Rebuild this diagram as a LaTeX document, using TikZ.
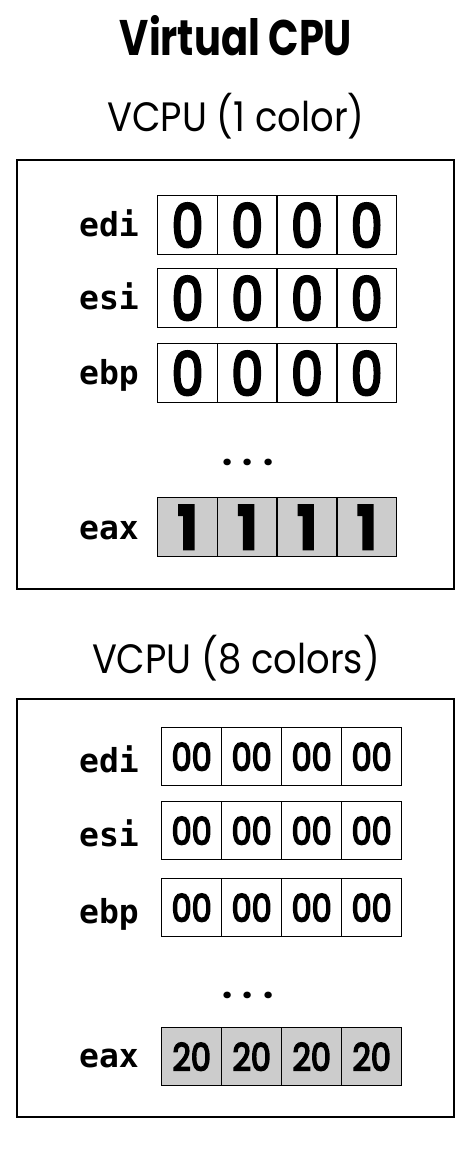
\documentclass[tikz,border=0pt]{standalone}
\usepackage{fontspec}
\setmainfont{Poppins}
\newfontfamily\titlefont{Poppins}[FakeStretch=0.8]
\newfontfamily\subfont{Poppins}[FakeStretch=0.9]
\newfontfamily\digitfont{Poppins}[FakeStretch=0.84, FakeBold=4]
\newfontfamily\regfont{DejaVu Sans Mono}
\usetikzlibrary{positioning}

\definecolor{cellgray}{RGB}{204,204,204}
\tikzset{
  cpubox/.style={draw, line width=1.6pt},
  regcell/.style={draw, line width=1.4pt, minimum width=59.7pt, minimum height=59pt,
    inner sep=0pt, anchor=north west},
  reglabel/.style={anchor=base east, inner sep=0pt,
    font={\fontsize{33}{33}\selectfont\regfont\bfseries}},
}

\begin{document}
\begin{tikzpicture}[x=1pt, y=-1pt]
  \useasboundingbox (0,0) rectangle (476,1156);

  \node[font={\fontsize{50}{50}\selectfont\titlefont\bfseries}] (title) at (236,36) {Virtual CPU};

  % first vcpu
  \node[font={\fontsize{41}{41}\selectfont\subfont}] (sub1) at (236,116) {VCPU (1 color)};
  \draw[cpubox] (17,160) rectangle (454,589);
  \foreach \y/\reg in {195/edi, 268/esi, 343/ebp} {
    \node[reglabel] (a\reg) at (139,\y+41) {\reg};
    \foreach \c in {0,...,3}
      \node[regcell, font={\fontsize{60}{60}\selectfont\digitfont}] (a\reg\c) at (157+\c*59.7,\y) {0};
  }
  \node[font={\fontsize{36}{36}\selectfont\bfseries}] (adots) at (248,462) {. . .};
  \node[reglabel] (aeax) at (139,539) {eax};
  \foreach \c in {0,...,3}
    \node[regcell, fill=cellgray, font={\fontsize{60}{60}\selectfont\digitfont\bfseries}] (aeax\c) at (157+\c*59.7,497) {1};

  % second vcpu
  \node[font={\fontsize{41}{41}\selectfont\subfont}] (sub2) at (236,658) {VCPU (8 colors)};
  \draw[cpubox] (17,699) rectangle (454,1117);
  \foreach \y/\reg in {727/edi, 801/esi, 878/ebp} {
    \node[reglabel] (b\reg) at (139,\y+45) {\reg};
    \foreach \c in {0,...,3}
      \node[regcell, minimum width=60pt, minimum height=58pt,
        font={\fontsize{38}{38}\selectfont\digitfont}] (b\reg\c) at (161+\c*60,\y) {00};
  }
  \node[font={\fontsize{36}{36}\selectfont\bfseries}] (bdots) at (248,995) {. . .};
  \node[reglabel] (beax) at (139,1067) {eax};
  \foreach \c in {0,...,3}
    \node[regcell, minimum width=60pt, minimum height=58pt, fill=cellgray,
      font={\fontsize{38}{38}\selectfont\digitfont}] (beax\c) at (161+\c*60,1027) {20};
\end{tikzpicture}
\end{document}
